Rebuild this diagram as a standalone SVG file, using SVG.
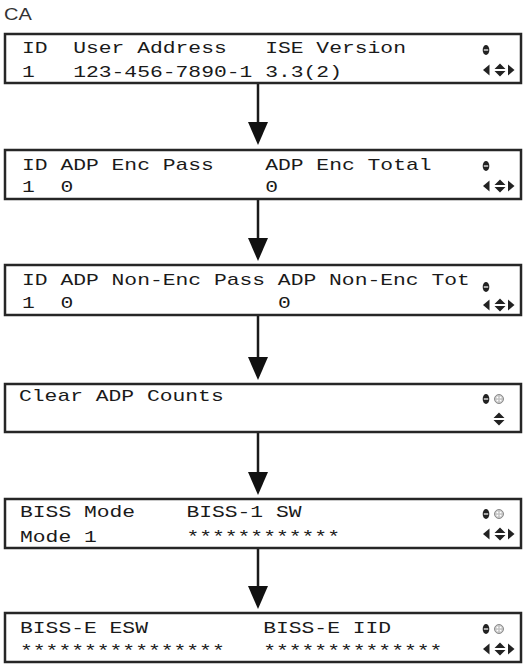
<svg xmlns="http://www.w3.org/2000/svg" width="524" height="665" viewBox="0 0 524 665">
<style>
.box{fill:#fff;stroke:#262626;stroke-width:2.5}
.t{font-family:"Liberation Mono","DejaVu Sans Mono",monospace;font-size:16px;fill:#1a1a1a}
.lbl{font-family:"Liberation Sans",Arial,sans-serif;font-size:16px;fill:#333}
.con{stroke:#1a1a1a;stroke-width:2.5;fill:none}
</style>
<defs>
<marker id="ah" markerUnits="userSpaceOnUse" markerWidth="24" markerHeight="20" refX="19" refY="10" orient="auto" viewBox="0 0 24 20">
<path d="M0,0 L23,10 L0,20 Z" fill="#111"/>
</marker>
<g id="lock"><ellipse cx="0" cy="0" rx="3.3" ry="5" fill="#222"/><rect x="-2.2" y="-0.6" width="4.4" height="1.2" fill="#fff"/></g>
<g id="dot"><circle cx="0" cy="0" r="4.5" fill="#c8c8c8" stroke="#8a8a8a" stroke-width="1"/><circle cx="-1.6" cy="-1.6" r="0.9" fill="#fff"/><circle cx="1.6" cy="-1.6" r="0.9" fill="#fff"/><circle cx="-1.6" cy="1.6" r="0.9" fill="#fff"/><circle cx="1.6" cy="1.6" r="0.9" fill="#fff"/></g>
<g id="ud"><path d="M-5.5,-1 L0,-6.5 L5.5,-1 Z M-5.5,1 L0,6.5 L5.5,1 Z" fill="#222"/></g>
<g id="lr"><path d="M-17,0 L-10.5,-5.5 L-10.5,5.5 Z" fill="#222"/><use href="#ud"/><path d="M8,-5.5 L14.5,0 L8,5.5 Z" fill="#222"/></g>
</defs>

<text class="lbl" transform="translate(4,20) scale(1.25,1)">CA</text>

<g id="connectors">
<line class="con" x1="258" y1="84" x2="258" y2="141" marker-end="url(#ah)"/>
<line class="con" x1="258" y1="199" x2="258" y2="257" marker-end="url(#ah)"/>
<line class="con" x1="258" y1="315" x2="258" y2="376" marker-end="url(#ah)"/>
<line class="con" x1="258" y1="432" x2="258" y2="491" marker-end="url(#ah)"/>
<line class="con" x1="258" y1="549" x2="258" y2="605" marker-end="url(#ah)"/>
</g>

<g id="node1">
<rect class="box" x="5" y="34" width="516" height="49"/>
<text class="t" transform="translate(22,53) scale(1.3333,1)">ID</text>
<text class="t" transform="translate(73.2,53) scale(1.3333,1)">User Address</text>
<text class="t" transform="translate(265.2,53) scale(1.3333,1)">ISE Version</text>
<text class="t" transform="translate(22,77) scale(1.3333,1)">1</text>
<text class="t" transform="translate(73.2,77) scale(1.3333,1)">123-456-7890-1</text>
<text class="t" transform="translate(265.2,77) scale(1.3333,1)">3.3(2)</text>
<use href="#lock" x="486" y="50"/>
<use href="#lr" x="500" y="70"/>
</g>

<g id="node2">
<rect class="box" x="5" y="150" width="516" height="49"/>
<text class="t" transform="translate(22,170) scale(1.3333,1)">ID ADP Enc Pass</text>
<text class="t" transform="translate(265.2,170) scale(1.3333,1)">ADP Enc Total</text>
<text class="t" transform="translate(22,192) scale(1.3333,1)">1</text>
<text class="t" transform="translate(60.4,192) scale(1.3333,1)">0</text>
<text class="t" transform="translate(265.2,192) scale(1.3333,1)">0</text>
<use href="#lock" x="486" y="166"/>
<use href="#lr" x="500" y="186"/>
</g>

<g id="node3">
<rect class="box" x="5" y="265" width="516" height="50"/>
<text class="t" transform="translate(22,285) scale(1.3333,1)">ID ADP Non-Enc Pass ADP Non-Enc Tot</text>
<text class="t" transform="translate(22,308) scale(1.3333,1)">1</text>
<text class="t" transform="translate(60.4,308) scale(1.3333,1)">0</text>
<text class="t" transform="translate(278,308) scale(1.3333,1)">0</text>
<use href="#lock" x="486" y="287"/>
<use href="#lr" x="500" y="305"/>
</g>

<g id="node4">
<rect class="box" x="5" y="384" width="516" height="48"/>
<text class="t" transform="translate(19,401) scale(1.3333,1)">Clear ADP Counts</text>
<use href="#lock" x="486" y="399"/>
<use href="#dot" x="499" y="399"/>
<use href="#ud" x="499" y="419"/>
</g>

<g id="node5">
<rect class="box" x="5" y="499" width="516" height="49"/>
<text class="t" transform="translate(20,517) scale(1.3333,1)">BISS Mode</text>
<text class="t" transform="translate(186.4,517) scale(1.3333,1)">BISS-1 SW</text>
<text class="t" transform="translate(20,542) scale(1.3333,1)">Mode 1</text>
<text class="t" transform="translate(186.4,542) scale(1.3333,1)">************</text>
<use href="#lock" x="486" y="514"/>
<use href="#dot" x="499" y="514"/>
<use href="#lr" x="500" y="534"/>
</g>

<g id="node6">
<rect class="box" x="5" y="613" width="516" height="49"/>
<text class="t" transform="translate(20,633) scale(1.3333,1)">BISS-E ESW</text>
<text class="t" transform="translate(263.2,633) scale(1.3333,1)">BISS-E IID</text>
<text class="t" transform="translate(20,656) scale(1.3333,1)">****************</text>
<text class="t" transform="translate(263.2,656) scale(1.3333,1)">**************</text>
<use href="#lock" x="486" y="629"/>
<use href="#dot" x="499" y="629"/>
<use href="#lr" x="500" y="649"/>
</g>
</svg>
